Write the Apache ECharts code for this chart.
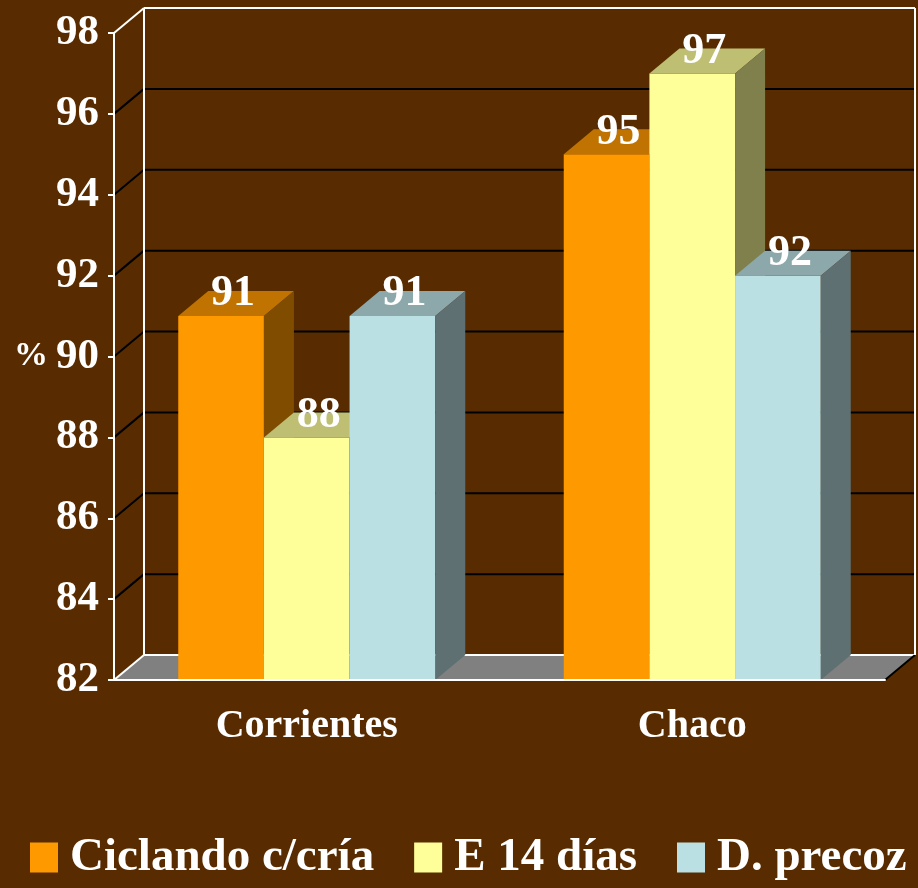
<!DOCTYPE html>
<html>
<head>
<meta charset="utf-8">
<script src="https://cdn.jsdelivr.net/npm/echarts@6/dist/echarts.min.js"></script>
<style>
  html, body { margin: 0; padding: 0; background: #582C00; }
  #chart { width: 918px; height: 888px; }
</style>
</head>
<body>
<div id="chart"></div>
<script>
var categories = ['Corrientes', 'Chaco'];
var seriesNames = ['Ciclando c/cría', 'E 14 días', 'D. precoz'];
var ciclando = [91, 95];
var e14dias = [88, 97];
var precoz = [91, 92];
var yTicks = [82, 84, 86, 88, 90, 92, 94, 96, 98];

var FONT = "'Liberation Serif', 'Times New Roman', serif";
// front / top / side colours of the 3D bars
var faces = [
    ['#FF9900', '#C07300', '#804D00'],
    ['#FFFF99', '#BFBF73', '#80804D'],
    ['#BBE0E3', '#8CA8AA', '#5E7072']
];
var DX = 30, DY = -25;

function wallItem(params, api) {
    var cs = params.coordSys;
    var v = api.value(1);
    var y = api.coord([0, v])[1];
    var left = cs.x, right = cs.x + cs.width;
    var children = [];
    if (v === yTicks[0]) {
        children.push({
            type: 'polygon',
            shape: { points: [[left, y], [right, y], [right + DX, y + DY], [left + DX, y + DY]] },
            style: { fill: '#808080' }
        });
        children.push({ type: 'line', shape: { x1: left + DX, y1: y + DY, x2: right + DX, y2: y + DY }, style: { stroke: '#fff', lineWidth: 2 } });
        children.push({ type: 'line', shape: { x1: left, y1: y, x2: left + DX, y2: y + DY }, style: { stroke: '#fff', lineWidth: 2 } });
        children.push({ type: 'line', shape: { x1: right, y1: y, x2: right + DX, y2: y + DY }, style: { stroke: '#000', lineWidth: 2 } });
    } else if (v === yTicks[yTicks.length - 1]) {
        var yb = api.coord([0, yTicks[0]])[1];
        children.push({ type: 'line', shape: { x1: left + DX, y1: y + DY, x2: right + DX, y2: y + DY }, style: { stroke: '#fff', lineWidth: 2 } });
        children.push({ type: 'line', shape: { x1: left, y1: y, x2: left + DX, y2: y + DY }, style: { stroke: '#fff', lineWidth: 2 } });
        children.push({ type: 'line', shape: { x1: left + DX, y1: y + DY, x2: left + DX, y2: yb + DY }, style: { stroke: '#fff', lineWidth: 2 } });
        children.push({ type: 'line', shape: { x1: right + DX, y1: y + DY, x2: right + DX, y2: yb + DY }, style: { stroke: '#fff', lineWidth: 2 } });
    } else {
        children.push({ type: 'line', shape: { x1: left + DX, y1: y + DY, x2: right + DX, y2: y + DY }, style: { stroke: '#000', lineWidth: 2 } });
        children.push({ type: 'line', shape: { x1: left, y1: y, x2: left + DX, y2: y + DY }, style: { stroke: '#000', lineWidth: 2 } });
    }
    return { type: 'group', children: children };
}

function barRenderer(idx) {
    return function (params, api) {
        var cat = api.value(0), val = api.value(1);
        var top = api.coord([cat, val]);
        var base = api.coord([cat, yTicks[0]]);
        var catW = api.size([1, 0])[0];
        var bw = catW * 2 / 9;
        var x0 = top[0] - 1.5 * bw + idx * bw;
        var x1 = x0 + bw;
        var ty = top[1], by = base[1];
        var c = faces[idx];
        return {
            type: 'group',
            children: [
                { type: 'rect', shape: { x: x0, y: ty, width: bw, height: by - ty }, style: { fill: c[0] } },
                { type: 'polygon', shape: { points: [[x0, ty], [x1, ty], [x1 + DX, ty + DY], [x0 + DX, ty + DY]] }, style: { fill: c[1] } },
                { type: 'polygon', shape: { points: [[x1, ty], [x1 + DX, ty + DY], [x1 + DX, by + DY], [x1, by]] }, style: { fill: c[2] } },
                {
                    type: 'text',
                    x: x0 + bw / 2 + 12, y: ty - 22,
                    style: {
                        text: String(Math.round(val)), fill: '#fff',
                        font: 'bold 44px ' + FONT,
                        align: 'center', verticalAlign: 'middle'
                    }
                }
            ]
        };
    };
}

var seriesData = [ciclando, e14dias, precoz];
var series = [{
    type: 'custom',
    name: 'wall',
    renderItem: wallItem,
    data: yTicks.map(function (v) { return [0, v]; }),
    silent: true
}];
seriesData.forEach(function (vals, i) {
    series.push({
        type: 'custom',
        name: seriesNames[i],
        itemStyle: { color: faces[i][0] },
        renderItem: barRenderer(i),
        data: vals.map(function (v, k) { return [k, v]; })
    });
});

var chart = echarts.init(document.getElementById('chart'));
chart.setOption({
    backgroundColor: '#582C00',
    animation: false,
    grid: { left: 114, right: 33, top: 33, bottom: 208 },
    legend: {
        data: seriesNames,
        left: 30, top: 834, padding: 0,
        icon: 'rect', itemWidth: 28, itemHeight: 30, itemGap: 40,
        textStyle: { color: '#fff', fontSize: 47, fontWeight: 'bold', fontFamily: FONT, padding: [0, 0, 0, 7] }
    },
    xAxis: {
        type: 'category',
        data: categories,
        z: 10,
        axisLine: { lineStyle: { color: '#fff', width: 2 } },
        axisTick: { length: 10, lineStyle: { color: '#fff', width: 2 } },
        axisLabel: { color: '#fff', fontSize: 40, fontWeight: 'bold', fontFamily: FONT, margin: 27 },
        splitLine: { show: false }
    },
    yAxis: {
        type: 'value',
        min: 82, max: 98, interval: 2,
        z: 10,
        name: '%',
        nameLocation: 'middle',
        nameRotate: 0,
        nameGap: 66,
        nameTextStyle: { color: '#fff', fontSize: 34, fontWeight: 'bold', fontFamily: FONT },
        axisLine: { show: true, lineStyle: { color: '#fff', width: 2 } },
        axisTick: { show: true, length: 6, lineStyle: { color: '#fff', width: 2 } },
        axisLabel: { color: '#fff', fontSize: 43, fontWeight: 'bold', fontFamily: FONT, margin: 15 },
        splitLine: { show: false }
    },
    series: series
});
</script>
</body>
</html>
